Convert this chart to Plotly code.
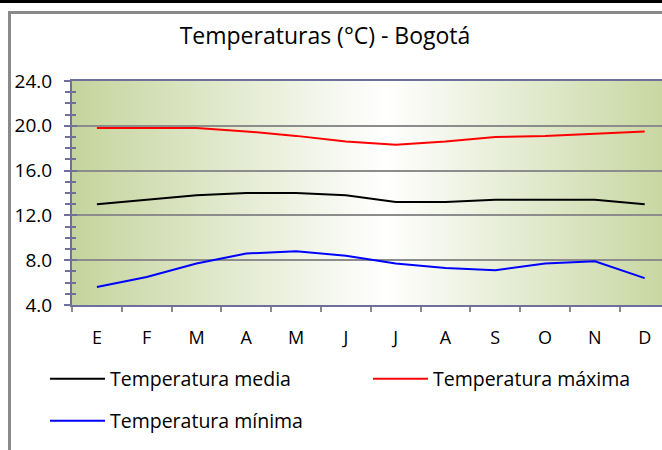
import base64
import plotly.graph_objects as go

months = ["E", "F", "M", "A", "M", "J", "J", "A", "S", "O", "N", "D"]
t_media = [13.0, 13.4, 13.8, 14.0, 14.0, 13.8, 13.2, 13.2, 13.4, 13.4, 13.4, 13.0]
t_max = [19.8, 19.8, 19.8, 19.5, 19.1, 18.6, 18.3, 18.6, 19.0, 19.1, 19.3, 19.5]
t_min = [5.6, 6.5, 7.7, 8.6, 8.8, 8.4, 7.7, 7.3, 7.1, 7.7, 7.9, 6.4]
y_ticks = [4, 8, 12, 16, 20, 24]

W, H = 662, 450
L, T, B = 72, 81, 305
R = 662
pw, ph = R - L, B - T

def px(x):
    return (x - L) / pw

def py(y):
    return (B - y) / ph

FONT = "Open Sans"
AX = "#6f6f9c"
GRID = "#8c8c8c"

xs = list(range(len(months)))

fig = go.Figure()
fig.add_trace(go.Scatter(x=xs, y=t_media, mode="lines", name="Temperatura media",
                         line=dict(color="#000000", width=2), legend="legend", showlegend=True))
fig.add_trace(go.Scatter(x=xs, y=t_max, mode="lines", name="Temperatura máxima",
                         line=dict(color="#ff0000", width=2), legend="legend3", showlegend=True))
fig.add_trace(go.Scatter(x=xs, y=t_min, mode="lines", name="Temperatura mínima",
                         line=dict(color="#0000ff", width=2), legend="legend2", showlegend=True))
fig.add_trace(go.Scatter(x=[], y=[], yaxis="y2", showlegend=False, hoverinfo="skip"))

svg = ('<svg xmlns="http://www.w3.org/2000/svg" width="600" height="200" preserveAspectRatio="none">'
       '<defs><linearGradient id="g" x1="0" y1="0" x2="1" y2="0">'
       '<stop offset="0" stop-color="#c5d49d"/>'
       '<stop offset="0.53" stop-color="#ffffff"/>'
       '<stop offset="1" stop-color="#c8d7a2"/>'
       '</linearGradient></defs>'
       '<rect x="0" y="0" width="600" height="200" fill="url(#g)"/></svg>')
src = "data:image/svg+xml;base64," + base64.b64encode(svg.encode()).decode()

n = len(months)
leg_common = dict(orientation="h", xanchor="left", yanchor="middle", itemwidth=55,
                  bgcolor="rgba(0,0,0,0)", font=dict(family=FONT, size=19.5))
fig.update_layout(
    width=W, height=H,
    showlegend=True,
    margin=dict(l=L, r=W - R, t=T, b=H - B, pad=0),
    paper_bgcolor="#ffffff",
    plot_bgcolor="rgba(0,0,0,0)",
    font=dict(family=FONT, size=19, color="#000000"),
    title=dict(text="Temperaturas (°C) - Bogotá", x=px(325), xref="paper", xanchor="center",
               y=1 - 36 / H, yref="container", yanchor="middle",
               font=dict(family=FONT, size=23, color="#000000")),
    images=[dict(source=src, xref="paper", yref="paper", x=0, y=1, sizex=1, sizey=1,
                 sizing="stretch", layer="below", xanchor="left", yanchor="top")],
    xaxis=dict(range=[-0.5, -0.5 + pw / 49.8], tickmode="array", tickvals=xs, ticktext=months,
               ticks="", showgrid=False, zeroline=False, showline=True, linecolor=AX, linewidth=2,
               mirror=True, ticklabelstandoff=15,
               minor=dict(tickmode="array", tickvals=[i - 0.5 for i in range(n + 1)],
                          ticks="outside", ticklen=5, tickcolor="#8a8a8a", tickwidth=2, showgrid=False),
               tickfont=dict(family=FONT, size=18)),
    yaxis=dict(range=[4, 24], tickmode="array", tickvals=y_ticks, tickformat=".1f",
               ticks="outside", ticklen=6, tickwidth=2, tickcolor=AX,
               showgrid=True, gridcolor=GRID, gridwidth=2, zeroline=False,
               showline=True, linecolor=AX, linewidth=2, ticklabelstandoff=8,
               minor=dict(dtick=1, tick0=4, ticks="outside", ticklen=5, tickwidth=2, tickcolor=AX, showgrid=False),
               tickfont=dict(family=FONT, size=19)),
    yaxis2=dict(range=[4, 24], overlaying="y", side="left", anchor="x", tickmode="array", tickvals=y_ticks,
                ticks="inside", ticklen=5, tickwidth=2, tickcolor=AX, showticklabels=False,
                showgrid=False, zeroline=False, showline=False,
                minor=dict(dtick=1, tick0=4, ticks="inside", ticklen=4, tickwidth=2, tickcolor=AX, showgrid=False)),
    legend=dict(x=px(45), y=py(379), **leg_common),
    legend3=dict(x=px(368), y=py(379), **leg_common),
    legend2=dict(x=px(45), y=py(421), **leg_common),
    shapes=[
        dict(type="rect", xref="paper", yref="paper", x0=px(0), x1=px(W), y0=py(0), y1=py(3),
             fillcolor="#000000", line=dict(width=0), layer="above"),
        dict(type="line", xref="paper", yref="paper", x0=px(8), x1=px(W), y0=py(12.5), y1=py(12.5),
             line=dict(color="#898989", width=3), layer="above"),
        dict(type="line", xref="paper", yref="paper", x0=px(9.5), x1=px(9.5), y0=py(11), y1=py(H),
             line=dict(color="#898989", width=3), layer="above"),
    ],
)

fig.write_html("out.html", config={"displayModeBar": False},
               post_script="document.body.style.margin='0';")
